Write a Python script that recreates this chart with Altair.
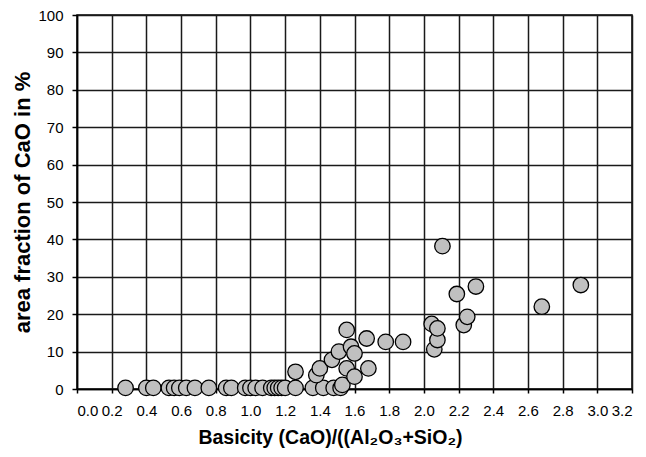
import altair as alt
import pandas as pd

# Basicity values (x) and CaO area fraction in % (y)
basicity = [
    0.28, 0.40, 0.44, 0.53, 0.56, 0.59, 0.63, 0.68, 0.76, 0.86, 0.89, 0.97,
    1.00, 1.03, 1.07, 1.12, 1.14, 1.16, 1.18, 1.20, 1.26, 1.36, 1.42, 1.48, 1.52,
    1.26, 1.38, 1.40, 1.47, 1.51, 1.53, 1.555, 1.555, 1.58, 1.60, 1.60, 1.67,
    1.68, 1.78, 1.88, 2.045, 2.06, 2.078, 2.078, 2.107, 2.19, 2.23, 2.25, 2.30,
    2.68, 2.905,
]
cao_fraction = [
    0.3, 0.3, 0.3, 0.3, 0.3, 0.3, 0.3, 0.3, 0.3, 0.3, 0.3, 0.3,
    0.3, 0.3, 0.3, 0.3, 0.3, 0.3, 0.3, 0.3, 0.3, 0.3, 0.3, 0.3, 0.3,
    4.6, 3.7, 5.5, 7.8, 10.0, 1.1, 15.8, 5.5, 11.3, 9.5, 3.3, 13.5,
    5.5, 12.6, 12.6, 17.4, 10.6, 13.1, 16.2, 38.2, 25.4, 17.1, 19.3, 27.4,
    22.0, 27.8,
]

x_ticks = [round(i * 0.2, 1) for i in range(17)]
y_ticks = list(range(0, 101, 10))

df = pd.DataFrame({"b": basicity, "c": cao_fraction})

FONT = "Liberation Sans"
common = dict(
    grid=True, gridColor="#1a1a1a", gridWidth=1.5, gridOpacity=1,
    domainColor="#000000", domainWidth=1.5,
    tickColor="#000000", tickWidth=1.5,
    labelFont=FONT, labelFontSize=15, labelColor="#000000",
    titleFont=FONT, titleColor="#000000", titleFontWeight="bold",
)

chart = (
    alt.Chart(df)
    .mark_point(shape="circle", filled=True, size=240, fill="#c0c0c0",
                stroke="#000000", strokeWidth=1.3, opacity=1)
    .encode(
        x=alt.X("b:Q",
                scale=alt.Scale(domain=[0, 3.2], nice=False, zero=False),
                axis=alt.Axis(values=x_ticks, format=".1f",
                              title="Basicity (CaO)/((Al₂O₃+SiO₂)",
                              titleX=253, titleY=54, titleBaseline="alphabetic",
                              titleFontSize=19.5,
                              labelPadding=10, tickSize=4, **common)),
        y=alt.Y("c:Q",
                scale=alt.Scale(domain=[0, 100], nice=False),
                axis=alt.Axis(values=y_ticks, format="d",
                              title="area fraction of CaO in %",
                              titleX=-48, titleY=187, titleBaseline="alphabetic",
                              titleFontSize=22,
                              labelPadding=9, tickSize=5, **common)),
    )
    .properties(
        width=555, height=374,
        autosize=alt.AutoSizeParams(type="none"),
        padding={"left": 69, "top": 7, "right": 6, "bottom": 60},
        background="white",
    )
    .configure_view(stroke="#000000", strokeWidth=1.5)
)

chart.save("out.html", embed_options={"renderer": "svg", "actions": False})
